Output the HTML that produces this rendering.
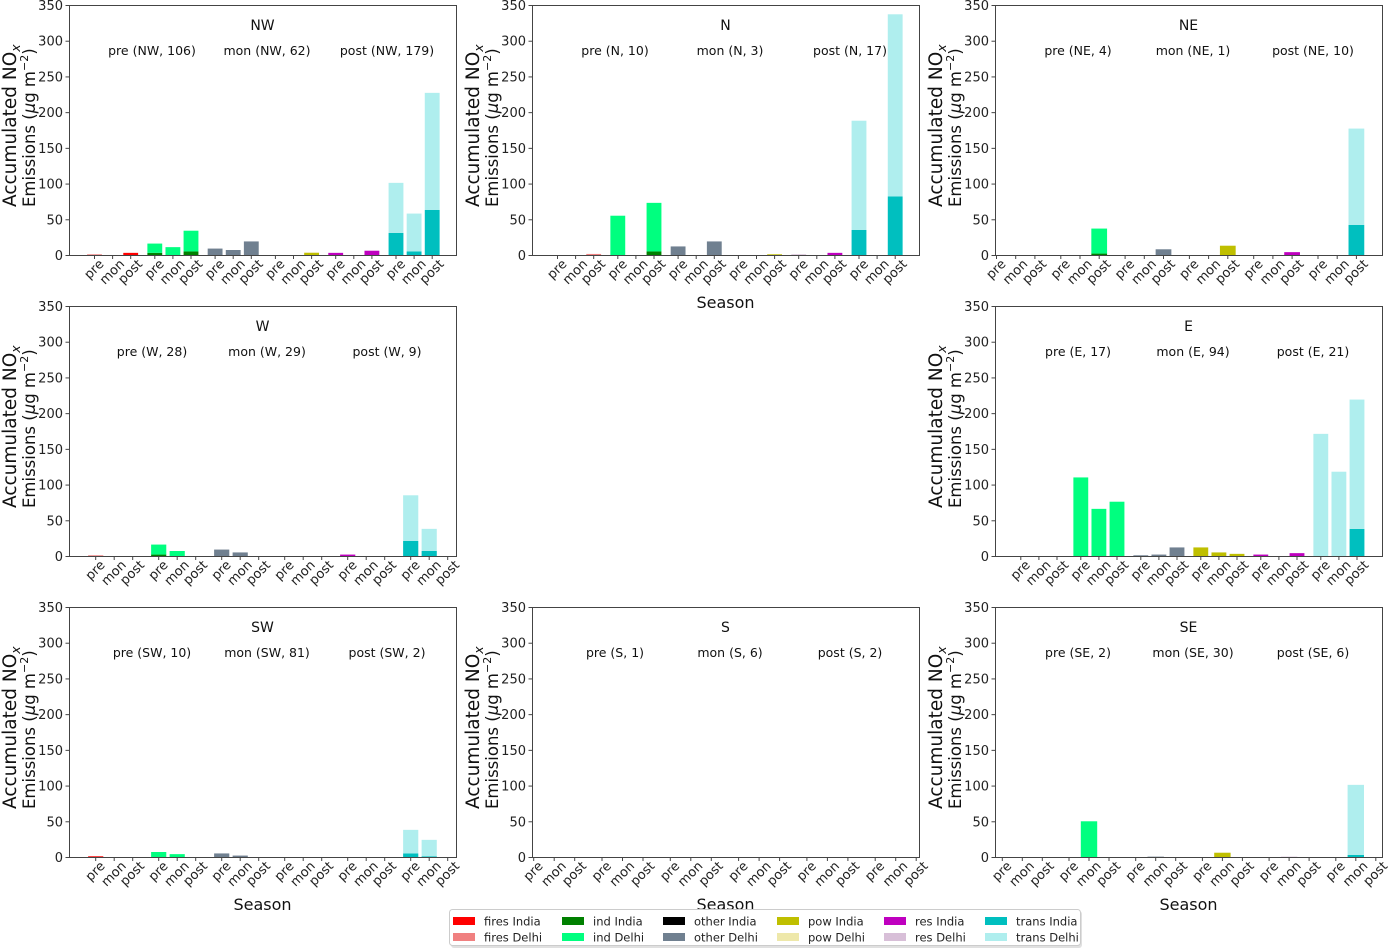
<!DOCTYPE html>
<html><head><meta charset="utf-8">
<style>
html,body{margin:0;padding:0;background:#fff;}
svg{display:block;font-family:"DejaVu Sans","Liberation Sans",sans-serif;}
</style></head>
<body>
<svg id="chart" width="1390" height="951" viewBox="0 0 1390 951" xmlns="http://www.w3.org/2000/svg"></svg>
<script>
// ---- data (per panel: 18 values = 6 sources x [pre, mon, post]) ----
const sources = ["fires","ind","other","pow","res","trans"];
const seasons = ["pre","mon","post"];
const yTicks = [0,50,100,150,200,250,300,350];
const indiaColors = ["#ff0000","#008000","#000000","#bfbf00","#bf00bf","#00bfbf"];
const delhiColors = ["#f08080","#00ff7f","#708090","#eee8aa","#d8bfd8","#afeeee"];

const nwIndia = [0,0,3, 3,0,5, 0,0,0, 0,0,3, 3,0,6, 31,5,63];
const nwDelhi = [1,0,0, 13,11,29, 9,7,19, 0,0,1, 0,0,0, 70,53,164];
const nIndia  = [0,0,0, 0,0,5, 0,0,0, 0,0,1, 0,0,3, 35,0,82];
const nDelhi  = [0,0,1.5, 55,0,68, 12,0,19, 0,0,0, 1,0,0, 153,0,255];
const neIndia = [0,0,0, 0,0,2, 0,0,0, 0,0,13, 0,0,4, 0,0,42];
const neDelhi = [0,0,0, 0,0,35, 0,0,8, 0,0,0, 0,0,0, 0,0,135];
const wIndia  = [0,0,0, 2,0,0, 0,0,0, 0,0,0, 2,0,0, 21,7,0];
const wDelhi  = [1,0,0, 14,7,0, 9,5,0, 0,0,0, 0,0,0, 64,31,0];
const eIndia  = [0,0,0, 0,0,0, 0,0,0, 12,5,3, 2,0,4, 0,0,38];
const eDelhi  = [0,0,0, 110,66,76, 1,2,12, 0,0,0, 0,0,0, 171,118,181];
const swIndia = [1,0,0, 0,0,0, 0,0,0, 0,0,0, 0,0,0, 5,1,0];
const swDelhi = [0,0,0, 7,4,0, 5,2,0, 0,0,0, 0,0,0, 33,23,0];
const sIndia  = [0,0,0, 0,0,0, 0,0,0, 0,0,0, 0,0,0, 0,0,0];
const sDelhi  = [0,0,0, 0,0,0, 0,0,0, 0,0,0, 0,0,0, 0,0,0];
const seIndia = [0,0,0, 0,0,0, 0,0,0, 0,6,0, 0,0,0, 0,3,0];
const seDelhi = [0,0,0, 0,50,0, 0,0.5,0, 0,0,0, 0,0.5,0, 0,98,0];

const nwCounts = ["pre (NW, 106)","mon (NW, 62)","post (NW, 179)"];
const nCounts  = ["pre (N, 10)","mon (N, 3)","post (N, 17)"];
const neCounts = ["pre (NE, 4)","mon (NE, 1)","post (NE, 10)"];
const wCounts  = ["pre (W, 28)","mon (W, 29)","post (W, 9)"];
const eCounts  = ["pre (E, 17)","mon (E, 94)","post (E, 21)"];
const swCounts = ["pre (SW, 10)","mon (SW, 81)","post (SW, 2)"];
const sCounts  = ["pre (S, 1)","mon (S, 6)","post (S, 2)"];
const seCounts = ["pre (SE, 2)","mon (SE, 30)","post (SE, 6)"];

// ---- layout (not data) ----
const panels = [
 {name:"NW",left:69, top:5,  india:nwIndia,delhi:nwDelhi,counts:nwCounts,off:25.5,G:60.3,S:18.1,season:false},
 {name:"N", left:532,top:5,  india:nIndia, delhi:nDelhi, counts:nCounts, off:25.5,G:60.3,S:18.1,season:true},
 {name:"NE",left:995,top:5,  india:neIndia,delhi:neDelhi,counts:neCounts,off:1.5, G:64.3,S:19.2,season:false},
 {name:"W", left:69, top:306,india:wIndia, delhi:wDelhi, counts:wCounts, off:26.7,G:63,  S:18.5,season:false},
 {name:"E", left:995,top:306,india:eIndia, delhi:eDelhi, counts:eCounts, off:25.8,G:60,  S:18.1,season:false},
 {name:"SW",left:69, top:607,india:swIndia,delhi:swDelhi,counts:swCounts,off:26.7,G:63,  S:18.5,season:true},
 {name:"S", left:532,top:607,india:sIndia, delhi:sDelhi, counts:sCounts, off:1.7, G:68.3,S:20.5,season:true},
 {name:"SE",left:995,top:607,india:seIndia,delhi:seDelhi,counts:seCounts,off:7.3, G:66.7,S:20,  season:true}
];
const W = 387, H = 250, YMAX = 350;
const NS = "http://www.w3.org/2000/svg";
const svg = document.getElementById("chart");

function el(tag, attrs, parent){
  const e = document.createElementNS(NS, tag);
  for (const k in attrs) e.setAttribute(k, attrs[k]);
  (parent||svg).appendChild(e);
  return e;
}

panels.forEach(p => {
  const g = el("g", {});
  
  
  const bottom = p.top + H;
  const yScale = v => bottom - v / YMAX * H;
  const xScale = k => p.left + p.off + Math.floor(k/3)*p.G + (k%3)*p.S;
  const bw = p.S * 0.82;

  for (let k = 0; k < 18; k++) {
    const src = Math.floor(k/3);
    const vi = p.india[k], vd = p.delhi[k];
    const cx = xScale(k);
    if (vi > 0) {
      const r = el("rect", {x:cx-bw/2, y:yScale(vi), width:bw, height:bottom-yScale(vi), fill:indiaColors[src]}, g);
      
      
    }
    if (vd > 0) {
      const r = el("rect", {x:cx-bw/2, y:yScale(vi+vd), width:bw, height:yScale(vi)-yScale(vi+vd), fill:delhiColors[src]}, g);
      
      
    }
  }

  const fr = el("rect", {x:p.left+0.5, y:p.top+0.5, width:W, height:H, fill:"none", stroke:"#444", "stroke-width":1}, g);
  
  

  yTicks.forEach(t => {
    const y = yScale(t) + 0.5;
    el("line", {x1:p.left-3.5, x2:p.left, y1:y, y2:y, stroke:"#444", "stroke-width":1}, g);
    const tx = el("text", {x:p.left-6, y:y+4.5, "text-anchor":"end", "font-size":13, fill:"#222"}, g);
    tx.textContent = t;
    
    
  });

  for (let k = 0; k < 18; k++) {
    const x = xScale(k);
    el("line", {x1:x, x2:x, y1:bottom+0.5, y2:bottom+4, stroke:"#444", "stroke-width":1}, g);
    const lbl = seasons[k%3];
    const tx = el("text", {"text-anchor":"middle", "dominant-baseline":"central", "font-size":13, fill:"#222"}, g);
    tx.textContent = lbl;
    
    
    const w = tx.getComputedTextLength ? tx.getComputedTextLength() : lbl.length*8;
    const h = (w + 12) * 0.7071;
    const cy = bottom + 3 + h/2;
    tx.setAttribute("x", x);
    tx.setAttribute("y", cy);
    tx.setAttribute("transform", "rotate(-45 " + x + " " + cy + ")");
  }

  const ti = el("text", {x:p.left+W/2, y:p.top+25, "text-anchor":"middle", "font-size":14, fill:"#111"}, g);
  ti.textContent = p.name;
  
  

  [83, 198, 318].forEach((dx, i) => {
    const c = el("text", {x:p.left+dx, y:p.top+50, "text-anchor":"middle", "font-size":12.5, fill:"#111"}, g);
    c.textContent = p.counts[i];
    
    
  });

  const yg = el("g", {transform:"translate(" + (p.left-53) + "," + (p.top+202) + ") rotate(-90)"}, g);
  
  
  const l1 = el("text", {x:0, y:0, "font-size":18.5, fill:"#111"}, yg);
  const t1 = el("tspan", {}, l1); t1.textContent = "Accumulated NO";
  const t1s = el("tspan", {"font-size":12.5, dy:4, "font-style":"italic"}, l1); t1s.textContent = "x";
  const l2 = el("text", {x:0, y:19, "font-size":16.5, fill:"#111"}, yg);
  const t2 = el("tspan", {}, l2); t2.textContent = "Emissions (";
  const t2m = el("tspan", {"font-style":"italic"}, l2); t2m.textContent = "μ";
  const t2b = el("tspan", {}, l2); t2b.textContent = "g m";
  const t2c = el("tspan", {"font-size":11, dy:-7}, l2); t2c.textContent = "−2";
  const t2d = el("tspan", {dy:7}, l2); t2d.textContent = ")";

  if (p.season) {
    const s = el("text", {x:p.left+W/2, y:bottom+53, "text-anchor":"middle", "font-size":16, fill:"#111"}, g);
    s.textContent = "Season";
    
    
  }
});

const lg = el("g", {});


el("rect", {x:451, y:911, width:631, height:37, rx:3, fill:"#ccc", opacity:0.6}, lg);
el("rect", {x:449.5, y:909.5, width:631, height:36, rx:3, fill:"#fff", stroke:"#ccc", "stroke-width":1}, lg);
const colX = [453, 562, 663, 777, 884, 985];
sources.forEach((s, i) => {
  [["India", indiaColors[i], 921], ["Delhi", delhiColors[i], 937]].forEach(([lab, col, y]) => {
    const e = el("g", {}, lg);
    
    
    el("rect", {x:colX[i], y:y-4, width:22, height:8, fill:col}, e);
    const t = el("text", {x:colX[i]+31, y:y+4.5, "font-size":11.5, fill:"#222"}, e);
    t.textContent = s + " " + lab;
  });
});
</script>
</body></html>
